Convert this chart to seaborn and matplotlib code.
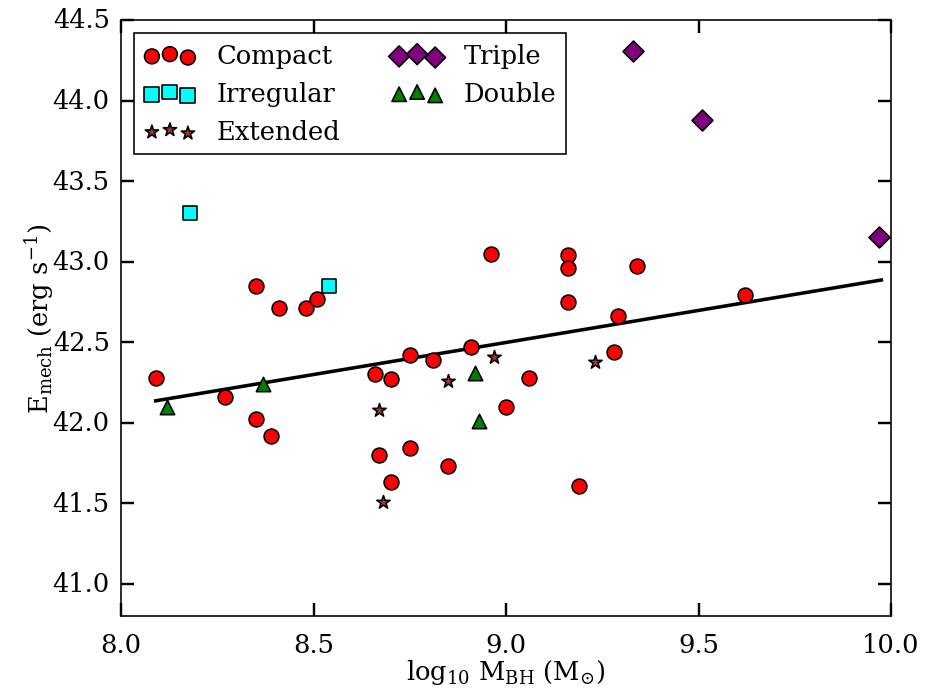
import matplotlib
matplotlib.use("Agg")
import matplotlib.pyplot as plt
import seaborn as sns
import pandas as pd

# Black-hole mass (log10 M_BH) and mechanical energy (log10 erg/s) by morphology
compact_x = [8.09, 8.27, 8.35, 8.35, 8.39, 8.41, 8.48, 8.51, 8.66, 8.70,
             8.75, 8.81, 8.91, 8.96, 9.00, 8.67, 8.75, 8.85, 8.70, 9.16,
             9.16, 9.16, 9.34, 9.29, 9.28, 9.06, 9.19, 9.62]
compact_y = [42.28, 42.16, 42.85, 42.02, 41.92, 42.71, 42.71, 42.77, 42.30, 42.27,
             42.42, 42.39, 42.47, 43.05, 42.10, 41.80, 41.84, 41.73, 41.63, 43.04,
             42.96, 42.75, 42.97, 42.66, 42.44, 42.28, 41.61, 42.79]

irregular_x = [8.18, 8.54]
irregular_y = [43.30, 42.85]

extended_x = [8.67, 8.68, 8.85, 8.97, 9.23]
extended_y = [42.08, 41.51, 42.26, 42.41, 42.38]

triple_x = [9.33, 9.51, 9.97]
triple_y = [44.31, 43.88, 43.15]

double_x = [8.12, 8.37, 8.92, 8.93]
double_y = [42.10, 42.24, 42.31, 42.01]

# Linear fit across the full sample (end points of the fitted line)
fit_x = [8.09, 9.975]
fit_y = [42.136, 42.886]

plt.style.use("classic")
plt.rcParams.update({
    "figure.facecolor": "white",
    "savefig.facecolor": "white",
    "font.family": ["DejaVu Serif"],
    "mathtext.fontset": "dejavuserif",
    "font.size": 16,
    "axes.linewidth": 1.0,
    "xtick.major.size": 8,
    "ytick.major.size": 8,
    "xtick.major.width": 1.5,
    "ytick.major.width": 1.5,
    "xtick.major.pad": 10,
    "ytick.major.pad": 7,
    "legend.fancybox": False,
    "legend.numpoints": 1,
})

fig = plt.figure(figsize=(8, 6.0043), dpi=115.75)
ax = fig.add_axes([0.1307, 0.1122, 0.8315, 0.8576])

fit_df = pd.DataFrame({"x": fit_x, "y": fit_y})
sns.lineplot(data=fit_df, x="x", y="y", color="black", linewidth=2.2,
             ax=ax, zorder=1, legend=False)

groups = [
    ("Compact", compact_x, compact_y, "o", "red", 85),
    ("Irregular", irregular_x, irregular_y, "s", "cyan", 85),
    ("Extended", extended_x, extended_y, "*", "#a83232", 75),
    ("Triple", triple_x, triple_y, "D", "purple", 85),
    ("Double", double_x, double_y, "^", "green", 80),
]

handles = []
for name, xs, ys, mk, col, size in groups:
    df = pd.DataFrame({"x": xs, "y": ys})
    sns.scatterplot(data=df, x="x", y="y", marker=mk, color=col, s=size,
                    edgecolor="black", linewidth=1.0, ax=ax, zorder=3,
                    label=name, legend=False)
    handles.append(ax.collections[-1])

ax.set_xlim(8.0, 10.0)
ax.set_ylim(40.8, 44.5)
ax.set_xticks([8.0, 8.5, 9.0, 9.5, 10.0])
ax.set_yticks([41.0, 41.5, 42.0, 42.5, 43.0, 43.5, 44.0, 44.5])
ax.minorticks_off()

ax.set_xlabel(r"$\mathrm{log_{10}\ M_{BH}\ (M_{\odot})}$", fontsize=16, labelpad=0)
ax.set_ylabel(r"$\mathrm{E_{mech}\ (erg\ s^{-1})}$", fontsize=16, labelpad=-2)

ax.legend(handles=handles, labels=[g[0] for g in groups], loc="upper left",
          ncol=2, scatterpoints=3, scatteryoffsets=[0.375, 0.5, 0.3125],
          fontsize=16, frameon=True, edgecolor="black")

fig.savefig("out.png", dpi=115.75)
